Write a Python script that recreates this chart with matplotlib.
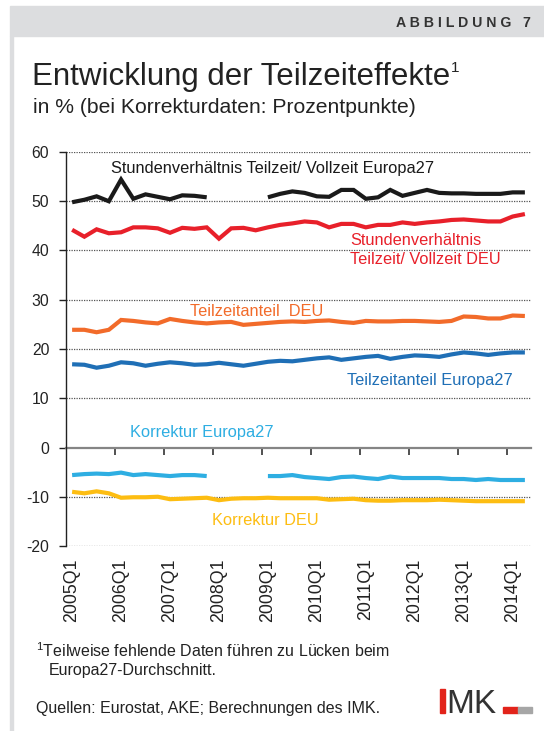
import numpy as np
import matplotlib
matplotlib.use("Agg")
import matplotlib.pyplot as plt
from matplotlib.patches import Rectangle

plt.rcParams['font.family'] = ['Liberation Sans', 'DejaVu Sans']
plt.rcParams['mathtext.fontset'] = 'custom'
plt.rcParams['mathtext.rm'] = 'Liberation Sans'
plt.rcParams['axes.unicode_minus'] = False

nan = np.nan
quarters = [f"{y}Q{q}" for y in range(2005, 2015) for q in range(1, 5)][:38]
tick_labels = [f"{y}Q1" for y in range(2005, 2015)]

stunden_eu27 = [49.8, 50.3, 51.0, 50.0, 54.4, 50.5, 51.4, 50.9, 50.4, 51.2, 51.1, 50.8,
                nan, nan, nan, nan,
                50.8, 51.5, 52.0, 51.7, 51.0, 50.9, 52.3, 52.3, 50.5, 50.8, 52.3, 51.1,
                51.7, 52.3, 51.7, 51.6, 51.6, 51.5, 51.5, 51.5, 51.8, 51.8]
stunden_deu = [44.2, 42.8, 44.3, 43.5, 43.7, 44.7, 44.7, 44.5, 43.6, 44.6, 44.4, 44.7,
               42.4, 44.5, 44.6, 44.1, 44.7, 45.2, 45.5, 45.9, 45.7, 44.7, 45.4, 45.4,
               44.7, 45.2, 45.2, 45.7, 45.4, 45.7, 45.9, 46.2, 46.3, 46.1, 45.9, 45.9,
               46.9, 47.4]
teilzeit_deu = [23.9, 23.9, 23.4, 23.9, 25.9, 25.7, 25.4, 25.2, 26.1, 25.7, 25.4, 25.2,
                25.4, 25.5, 24.9, 25.1, 25.3, 25.5, 25.6, 25.5, 25.7, 25.8, 25.5, 25.3,
                25.7, 25.6, 25.6, 25.7, 25.7, 25.6, 25.5, 25.7, 26.6, 26.5, 26.2, 26.2,
                26.8, 26.7]
teilzeit_eu27 = [16.9, 16.8, 16.2, 16.6, 17.3, 17.1, 16.6, 17.0, 17.3, 17.1, 16.8, 16.9,
                 17.2, 16.9, 16.6, 17.0, 17.4, 17.6, 17.5, 17.8, 18.1, 18.3, 17.8, 18.1,
                 18.4, 18.6, 18.0, 18.4, 18.7, 18.6, 18.4, 18.9, 19.3, 19.1, 18.8, 19.1,
                 19.3, 19.3]
korr_eu27 = [-5.6, -5.4, -5.3, -5.4, -5.1, -5.6, -5.4, -5.6, -5.8, -5.6, -5.6, -5.8,
             nan, nan, nan, nan,
             -5.8, -5.8, -5.6, -6.0, -6.2, -6.4, -6.0, -5.9, -6.2, -6.4, -5.9, -6.2,
             -6.2, -6.2, -6.2, -6.4, -6.4, -6.6, -6.4, -6.6, -6.6, -6.6]
korr_deu = [-9.0, -9.3, -8.9, -9.3, -10.2, -10.1, -10.1, -10.0, -10.5, -10.4, -10.3, -10.2,
            -10.7, -10.4, -10.3, -10.3, -10.2, -10.3, -10.3, -10.3, -10.3, -10.6, -10.5, -10.4,
            -10.7, -10.8, -10.8, -10.7, -10.7, -10.7, -10.6, -10.7, -10.8, -10.9, -10.9, -10.9,
            -10.9, -10.9]

W, H = 544, 731
fig = plt.figure(figsize=(W / 100, H / 100), dpi=100)

def fx(x):
    return x / W

def fy(y):
    return 1 - y / H

# frame decorations
fig.patches.append(Rectangle((fx(10), fy(36)), 1 - fx(10), fy(6) - fy(36),
                             transform=fig.transFigure, color='#dcdddf', zorder=0))
fig.patches.append(Rectangle((fx(10), 0), fx(3), fy(36),
                             transform=fig.transFigure, color='#dcdddf', zorder=0))
fig.text(fx(531), fy(27), "A B B I L D U N G   7", fontsize=10.2, fontweight='bold',
         color='#333333', ha='right', va='baseline')

title = fig.text(fx(32), fy(85), "Entwicklung der Teilzeiteffekte", fontsize=22.5,
                 color='#222222', ha='left', va='baseline')
renderer = fig.canvas.get_renderer()
bb = title.get_window_extent(renderer)
fig.text(bb.x1 / W + fx(1), fy(72), "1", fontsize=11, color='#222222',
         ha='left', va='baseline')
fig.text(fx(33), fy(113), "in % (bei Korrekturdaten: Prozentpunkte)", fontsize=15.2,
         color='#222222', ha='left', va='baseline')

ax = fig.add_axes([fx(66), fy(546), fx(531) - fx(66), fy(152) - fy(546)])
x = np.arange(len(quarters))

series = [
    (stunden_eu27, '#1a1a1a'),
    (stunden_deu, '#e8202a'),
    (teilzeit_deu, '#f26b2a'),
    (teilzeit_eu27, '#1f6fb6'),
    (korr_eu27, '#2eaee2'),
    (korr_deu, '#fdbd12'),
]
for vals, col in series:
    ax.plot(x, vals, color=col, lw=3.0, solid_capstyle='butt', solid_joinstyle='miter', zorder=3)

ax.set_xlim(-0.5, len(quarters) - 0.5)
ax.set_ylim(-20, 60)
ax.set_yticks(np.arange(-20, 61, 10))
for v in np.arange(-20, 61, 10):
    if v != 0:
        ax.axhline(v, color='#555555', lw=0.9, ls=(0, (1, 1)), zorder=1)

for s in ['top', 'right']:
    ax.spines[s].set_visible(False)
ax.spines['left'].set_color('#222222')
ax.spines['left'].set_linewidth(1.0)
ax.spines['bottom'].set_position(('data', 0))
ax.spines['bottom'].set_color('#858585')
ax.spines['bottom'].set_linewidth(1.6)
ax.spines['bottom'].set_zorder(2)

ax.set_xticks(np.arange(3.5, len(quarters) - 1, 4))
ax.tick_params(axis='x', direction='out', length=5, width=1.2, color='#333333',
               labelbottom=False)
ax.tick_params(axis='y', direction='out', length=5, width=1.0, color='#222222',
               labelsize=11.3, labelcolor='#222222', pad=7)

sec = ax.secondary_xaxis('bottom')
sec.set_xticks(np.arange(0, len(quarters), 4), tick_labels, rotation=90)
sec.tick_params(length=0, labelsize=12.8, labelcolor='#222222', pad=9)
sec.spines['bottom'].set_visible(False)

lab = dict(fontsize=11.8, ha='left', va='center')
ax.text(3.2, 56.6, "Stundenverhältnis Teilzeit/ Vollzeit Europa27", color='#1a1a1a', **lab)
ax.text(22.7, 42.0, "Stundenverhältnis", color='#e8202a', **lab)
ax.text(22.7, 38.2, "Teilzeit/ Vollzeit DEU", color='#e8202a', **lab)
ax.text(9.6, 27.6, "Teilzeitanteil  DEU", color='#f26b2a', **lab)
ax.text(22.5, 13.6, "Teilzeitanteil Europa27", color='#1f6fb6', **lab)
ax.text(4.7, 3.0, "Korrektur Europa27", color='#2eaee2', **lab)
ax.text(11.4, -14.8, "Korrektur DEU", color='#fdbd12', **lab)

fig.text(fx(36), fy(657), "$^\\mathregular{1}$Teilweise fehlende Daten führen zu Lücken beim",
         fontsize=11.5, color='#222222', ha='left', va='baseline')
fig.text(fx(49), fy(675), "Europa27-Durchschnitt.", fontsize=11.5, color='#222222',
         ha='left', va='baseline')
fig.text(fx(36), fy(713), "Quellen: Eurostat, AKE; Berechnungen des IMK.", fontsize=11.5,
         color='#222222', ha='left', va='baseline')

# IMK logo
fig.patches.append(Rectangle((fx(440), fy(713)), fx(5), fy(689) - fy(713),
                             transform=fig.transFigure, color='#e2231a'))
fig.text(fx(446), fy(713), "MK", fontsize=24, color='#333333', ha='left', va='baseline')
fig.patches.append(Rectangle((fx(503), fy(713)), fx(15), fy(707) - fy(713),
                             transform=fig.transFigure, color='#e2231a'))
fig.patches.append(Rectangle((fx(518), fy(713)), fx(14), fy(707) - fy(713),
                             transform=fig.transFigure, color='#a6a6a6'))

fig.savefig("out.png", dpi=100)
